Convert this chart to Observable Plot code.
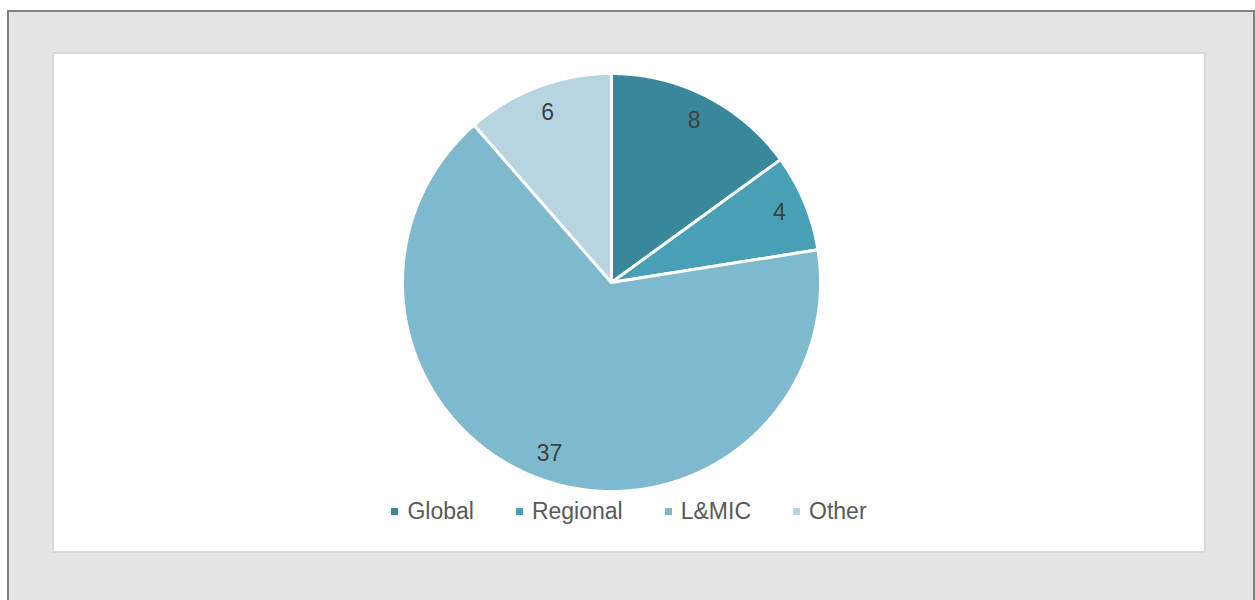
<!DOCTYPE html>
<html><head><meta charset="utf-8">
<script src="https://cdn.jsdelivr.net/npm/d3@7"></script>
<script src="https://cdn.jsdelivr.net/npm/@observablehq/plot@0.6"></script>
<style>
html,body{margin:0;padding:0;width:1255px;height:600px;overflow:hidden;background:#fff;font-family:"Liberation Sans",Arial,sans-serif;}
#outer{position:absolute;left:7px;top:10px;width:1244px;height:620px;background:#e5e5e5;border:2px solid #7f7f7f;}
#panel{position:absolute;left:52px;top:52px;width:1150px;height:497px;background:#fff;border:2px solid #d9d9d9;}
#chart{position:absolute;left:0;top:0;}
#legend{position:absolute;left:0;top:442px;width:1150px;height:30px;display:flex;justify-content:center;align-items:center;gap:42px;font-size:23px;color:#595959;}
.item{display:flex;align-items:center;}
.sw{width:7px;height:7px;margin-right:9px;}
</style>
</head><body>
<div id="outer"></div>
<div id="panel"><div id="chart"></div><div id="legend"></div></div>
<script>
const categories = ["Global", "Regional", "L&MIC", "Other"];
// the labels show them rounded
const values = [8.4, 4.2, 37.0, 6.4];
const colors = ["#38879a", "#47a0b6", "#7fb9ce", "#b7d5e0"];

const arcs = d3.pie().sort(null).value(d => d.value)(categories.map((c, i) => ({cat: c, value: values[i]})));

// slice outlines in unit-radius coordinates (angle clockwise from 12 o'clock)
const slicePts = [];
for (const a of arcs) {
  const n = Math.max(2, Math.ceil((a.endAngle - a.startAngle) / (Math.PI / 360)));
  slicePts.push({cat: a.data.cat, x: 0, y: 0});
  for (let k = 0; k <= n; k++) {
    const t = a.startAngle + (a.endAngle - a.startAngle) * k / n;
    slicePts.push({cat: a.data.cat, x: Math.sin(t), y: Math.cos(t)});
  }
}
const labelR = 0.87;
const labels = arcs.map(a => {
  const m = (a.startAngle + a.endAngle) / 2;
  return {cat: a.data.cat, text: d3.format(".0f")(a.data.value), x: labelR * Math.sin(m), y: labelR * Math.cos(m)};
});

const W = 1150, H = 440, cx = 557, cy = 228, R = 209;
const plot = Plot.plot({
  width: W, height: H,
  marginLeft: cx - R, marginRight: W - (cx + R),
  marginTop: cy - R, marginBottom: H - (cy + R),
  x: {domain: [-1, 1], axis: null},
  y: {domain: [-1, 1], axis: null},
  color: {domain: categories, range: colors},
  style: {background: "transparent", overflow: "visible"},
  marks: [
    Plot.line(slicePts, {x: "x", y: "y", z: "cat", fill: "cat", stroke: "white", strokeWidth: 3, strokeLinejoin: "round", curve: "linear-closed"}),
    Plot.text(labels, {x: "x", y: "y", text: "text", fill: "#404040", fontSize: 23, fontFamily: "Liberation Sans, Arial, sans-serif"})
  ]
});
document.getElementById("chart").appendChild(plot);

const legend = document.getElementById("legend");
categories.forEach((c, i) => {
  const it = document.createElement("div");
  it.className = "item";
  const sw = document.createElement("span");
  sw.className = "sw";
  sw.style.background = colors[i];
  const tx = document.createElement("span");
  tx.textContent = c;
  it.appendChild(sw); it.appendChild(tx);
  legend.appendChild(it);
});
</script>
</body></html>
